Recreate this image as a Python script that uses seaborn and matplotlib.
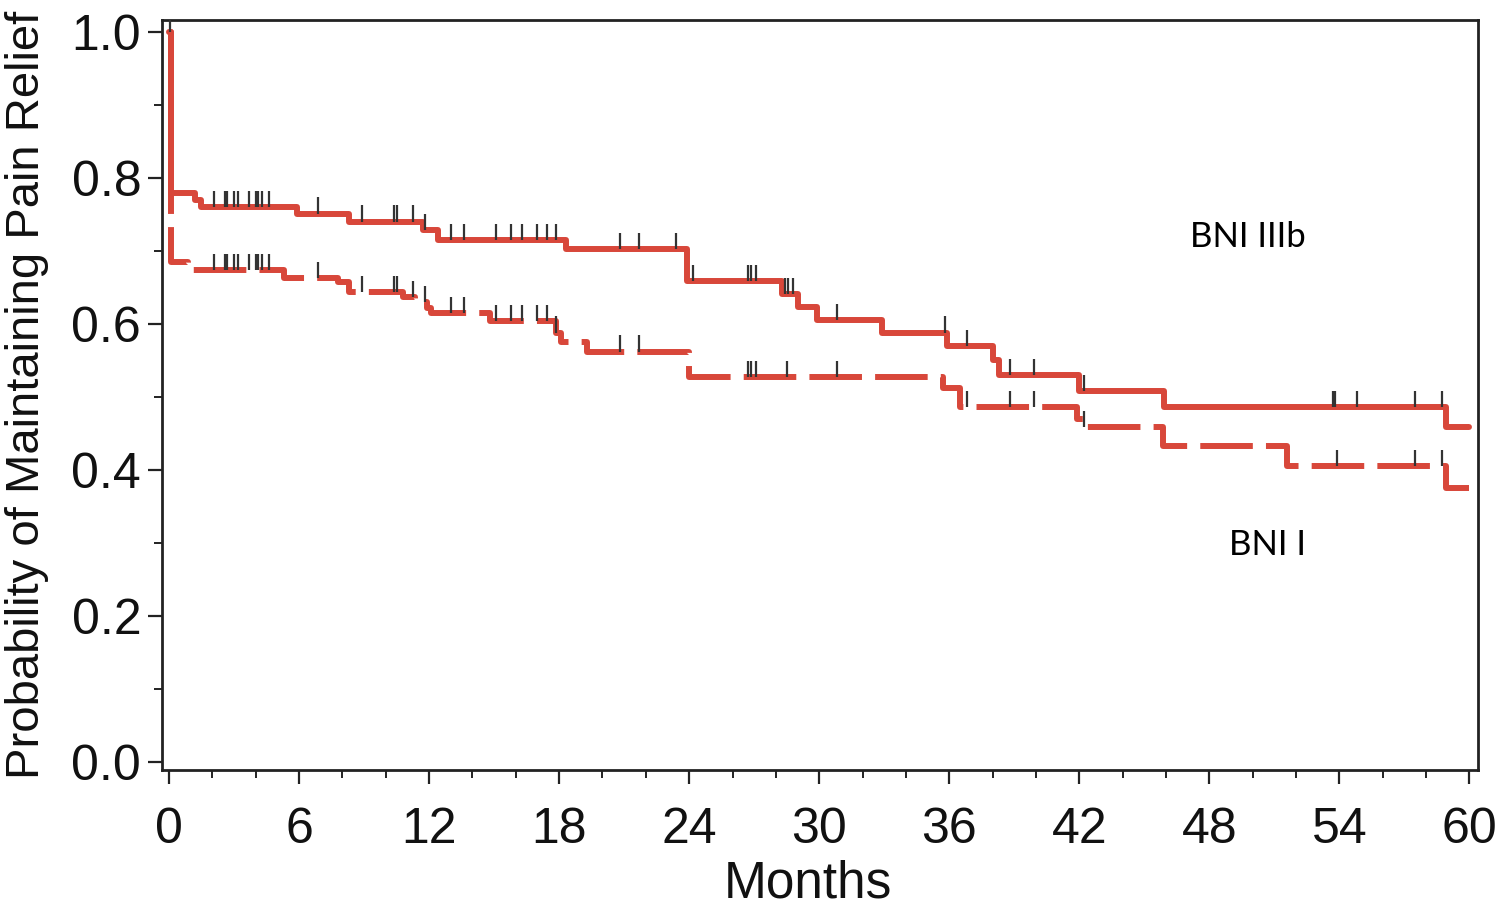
import numpy as np
import pandas as pd
import matplotlib
matplotlib.use("Agg")
import matplotlib.pyplot as plt
import seaborn as sns
from matplotlib.ticker import MultipleLocator

# Kaplan-Meier step data (months, survival)
iiib_time = [0, 0.1, 1.2, 1.5, 5.9, 8.3, 11.7, 12.4, 18.3, 23.9, 28.3, 29.0, 29.9,
             32.9, 35.9, 38.0, 38.3, 42.0, 45.9, 58.9, 60.0]
iiib_surv = [1.0, 0.779, 0.770, 0.760, 0.751, 0.740, 0.729, 0.715, 0.702, 0.658,
             0.641, 0.623, 0.605, 0.588, 0.570, 0.550, 0.530, 0.508, 0.486, 0.459, 0.459]

bni1_time = [0, 0.1, 0.9, 5.3, 7.8, 8.3, 10.8, 11.35, 11.9, 12.1, 14.8, 17.85, 18.1,
             19.3, 24.0, 35.7, 36.5, 41.9, 42.2, 45.85, 51.6, 58.9, 60.0]
bni1_surv = [1.0, 0.684, 0.673, 0.663, 0.657, 0.643, 0.637, 0.630, 0.622, 0.615,
             0.604, 0.588, 0.575, 0.562, 0.527, 0.512, 0.486, 0.470, 0.458, 0.433,
             0.405, 0.375, 0.375]

iiib_censor = [2.1, 2.6, 2.7, 3.0, 3.2, 3.7, 4.0, 4.1, 4.3, 4.6, 6.9, 8.9, 10.4, 10.5,
               11.25, 11.8, 13.0, 13.6, 15.1, 15.8, 16.3, 17.0, 17.45, 17.85, 20.8,
               21.7, 23.4, 24.2, 26.7, 26.85, 27.1, 28.4, 28.55, 28.8, 30.8, 35.8,
               36.8, 38.8, 39.9, 42.2, 53.7, 53.8, 54.8, 57.5, 58.75]
bni1_censor = [0.05, 2.1, 2.6, 2.7, 3.0, 3.2, 3.7, 4.0, 4.1, 4.3, 4.6, 6.9, 8.9, 10.4,
               10.5, 11.25, 11.8, 13.0, 13.6, 15.1, 15.8, 16.3, 17.0, 17.45, 17.85,
               20.8, 21.7, 26.7, 26.85, 27.1, 28.5, 30.8, 36.8, 38.8, 39.9, 42.2,
               53.9, 57.5, 58.75]

RED = "#d8473a"

sns.set_style("ticks")
plt.rcParams["font.family"] = ["Liberation Sans", "DejaVu Sans"]
plt.rcParams["text.color"] = "#111111"
plt.rcParams["axes.labelcolor"] = "#111111"

fig = plt.figure(figsize=(15, 9.08), dpi=100)
ax = fig.add_axes([0.108, 0.152, 0.877, 0.826])

df_iiib = pd.DataFrame({"Months": iiib_time, "S": iiib_surv})
df_bni1 = pd.DataFrame({"Months": bni1_time, "S": bni1_surv})

sns.lineplot(data=df_iiib, x="Months", y="S", ax=ax, color=RED, lw=4.3,
             drawstyle="steps-post", estimator=None, sort=False)
sns.lineplot(data=df_bni1, x="Months", y="S", ax=ax, color=RED, lw=4.3,
             drawstyle="steps-post", estimator=None, sort=False,
             linestyle=(0, (8.8, 2.2)))


def step_at(times, surv, t):
    idx = np.searchsorted(times, t, side="right") - 1
    return np.asarray(surv)[idx]


for times, surv, cens in [(iiib_time, iiib_surv, iiib_censor),
                          (bni1_time, bni1_surv, bni1_censor)]:
    yc = step_at(times, surv, np.asarray(cens))
    ax.vlines(cens, yc, yc + 0.022, color="#333333", lw=1.6, zorder=3)

ax.text(47.1, 0.719, "BNI IIIb", fontsize=25, family=["Lato", "DejaVu Sans"],
        va="center", ha="left", color="black")
ax.text(48.9, 0.297, "BNI I", fontsize=25, family=["Lato", "DejaVu Sans"],
        va="center", ha="left", color="black")

ax.set_xlim(-0.32, 60.37)
ax.set_ylim(-0.011, 1.016)
ax.set_xticks(np.arange(0, 61, 6))
ax.set_yticks(np.arange(0, 1.01, 0.2))
ax.set_yticklabels([f"{v:.1f}" for v in np.arange(0, 1.01, 0.2)])
ax.xaxis.set_minor_locator(MultipleLocator(2))
ax.yaxis.set_minor_locator(MultipleLocator(0.1))
ax.tick_params(which="major", length=10, width=1.6, labelsize=36,
               color="#222222", labelcolor="#111111")
ax.tick_params(which="minor", length=6, width=1.4, color="#222222")
ax.tick_params(axis="x", which="major", pad=17)
ax.tick_params(axis="y", which="major", pad=5)

ax.set_xlabel("Months", fontsize=37, labelpad=4)
ax.xaxis.label.set_x(0.491)
ax.set_ylabel("Probability of Maintaining Pain Relief", fontsize=34, labelpad=16)

for sp in ax.spines.values():
    sp.set_visible(True)
    sp.set_linewidth(2)
    sp.set_color("#222222")

fig.savefig("out.png", dpi=100)
